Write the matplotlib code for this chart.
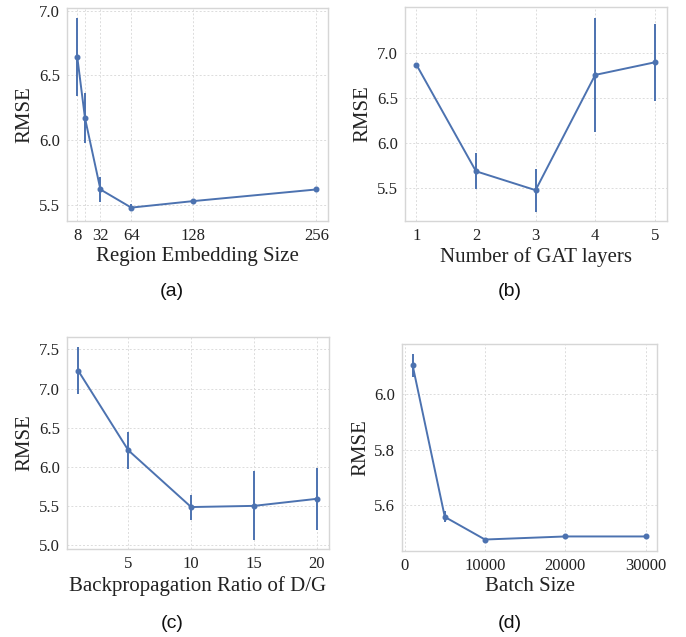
import matplotlib
matplotlib.use("Agg")
import matplotlib.pyplot as plt

# Data
emb_x = [8, 16, 32, 64, 128, 256]
emb_y = [6.64, 6.17, 5.62, 5.48, 5.53, 5.62]
emb_err = [0.30, 0.195, 0.095, 0.025, 0.02, 0.01]
emb_ticks = [8, 16, 32, 64, 128, 256]
emb_ticklabels = ['8', '', '32', '64', '128', '256']

gat_x = [1, 2, 3, 4, 5]
gat_y = [6.874, 5.69, 5.48, 6.76, 6.90]
gat_err = [0.01, 0.20, 0.237, 0.63, 0.43]

ratio_x = [1, 5, 10, 15, 20]
ratio_y = [7.23, 6.21, 5.485, 5.50, 5.59]
ratio_err = [0.30, 0.237, 0.16, 0.44, 0.40]

batch_x = [1000, 5000, 10000, 20000, 30000]
batch_y = [6.101, 5.559, 5.478, 5.489, 5.489]
batch_err = [0.04, 0.02, 0.004, 0.004, 0.004]

COLOR = '#4C72B0'
SERIF = ['Liberation Serif', 'DejaVu Serif']
SANS = ['Liberation Sans', 'DejaVu Sans']

W, H = 686, 637
fig = plt.figure(figsize=(W / 100, H / 100), dpi=100)


def make_ax(l, r, t, b):
    return fig.add_axes([l / W, 1 - b / H, (r - l) / W, (b - t) / H])


def style(ax, xlabel):
    ax.set_facecolor('white')
    for s in ax.spines.values():
        s.set_color('#d6d6d6')
        s.set_linewidth(1.0)
    ax.grid(True, color='#dcdcdc', linestyle=(0, (2, 2)), linewidth=0.7)
    ax.set_axisbelow(True)
    ax.tick_params(length=0, labelsize=12, colors='#222222')
    ax.tick_params(axis='x', pad=5)
    ax.tick_params(axis='y', pad=5)
    for lab in ax.get_xticklabels() + ax.get_yticklabels():
        lab.set_fontfamily(SERIF)
    ax.set_xlabel(xlabel, fontsize=15, family=SERIF, color='#222222', labelpad=2.5)
    ax.set_ylabel('RMSE', fontsize=15, family=SERIF, color='#222222', labelpad=3)


def plot(ax, x, y, e):
    ax.errorbar(x, y, yerr=e, color=COLOR, lw=1.4, marker='o', markersize=3.3,
                elinewidth=1.4, capsize=0)


# (a)
ax = make_ax(66.7, 328.3, 8.3, 220.7)
plot(ax, emb_x, emb_y, emb_err)
ax.set_xticks(emb_ticks)
ax.set_xticklabels(emb_ticklabels)
ax.set_yticks([5.5, 6.0, 6.5, 7.0])
ax.set_xlim(-3.0, 268.5)
ax.set_ylim(5.379, 7.018)
style(ax, 'Region Embedding Size')

# (b)
ax = make_ax(404.7, 667.3, 7.3, 220.7)
plot(ax, gat_x, gat_y, gat_err)
ax.set_xticks([1, 2, 3, 4, 5])
ax.set_yticks([5.5, 6.0, 6.5, 7.0])
ax.set_xlim(0.804, 5.21)
ax.set_ylim(5.141, 7.511)
style(ax, 'Number of GAT layers')

# (c)
ax = make_ax(66.7, 329.3, 336.7, 549.3)
plot(ax, ratio_x, ratio_y, ratio_err)
ax.set_xticks([5, 10, 15, 20])
ax.set_yticks([5.0, 5.5, 6.0, 6.5, 7.0, 7.5])
ax.set_xlim(0.093, 21.0)
ax.set_ylim(4.945, 7.662)
style(ax, 'Backpropagation Ratio of D/G')

# (d)
ax = make_ax(402.3, 657.3, 343.7, 550.7)
plot(ax, batch_x, batch_y, batch_err)
ax.set_xticks([0, 10000, 20000, 30000])
ax.set_yticks([5.6, 5.8, 6.0])
ax.set_xlim(-290, 31450)
ax.set_ylim(5.438, 6.179)
style(ax, 'Batch Size')

# captions
for label, x, y in [('(a)', 172, 291), ('(b)', 510, 291), ('(c)', 172, 623), ('(d)', 510, 623)]:
    fig.text(x / W, 1 - y / H, label, ha='center', va='center', fontsize=14,
             family=SANS, color='#111111')

fig.savefig('out.png', dpi=100, facecolor='white')
